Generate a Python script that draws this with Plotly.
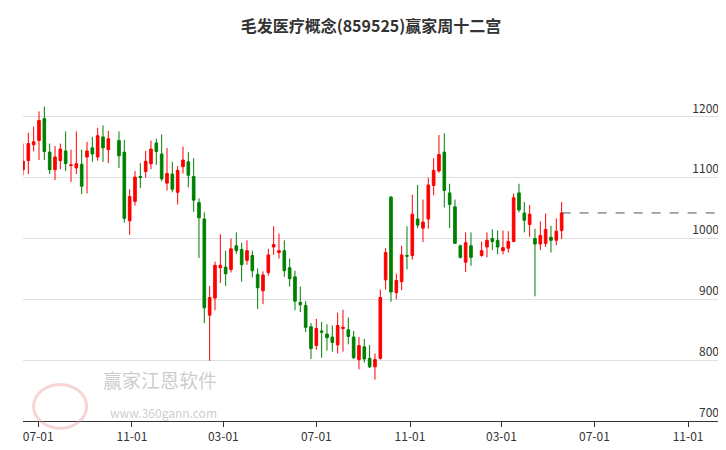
import pandas as pd
import plotly.graph_objects as go

# weekly candles, oldest first
opens = [1113, 1128, 1154, 1161, 1197, 1142, 1113, 1128, 1144, 1120,
         1116, 1122, 1134, 1149, 1134, 1167, 1146, 1161, 1142, 1029,
         1061, 1102, 1110, 1123, 1157, 1139, 1091, 1106, 1076, 1118,
         1126, 1102, 1059, 1032, 874, 902, 952, 953, 949, 988,
         982, 964, 972, 941, 914, 944, 986, 977, 980, 952,
         937, 895, 890, 855, 824, 848, 843, 838, 825, 852,
         850, 838, 801, 822, 803, 789, 803, 932, 1068, 911,
         929, 972, 972, 1032, 1017, 1032, 1087, 1111, 1142, 1075,
         1052, 988, 961, 988, 972, 986, 1000, 997, 980, 984,
         995, 1075, 1042, 1023, 1000, 991, 992, 1002, 997, 1013]
closes = [1127, 1156, 1159, 1194, 1143, 1113, 1134, 1147, 1123, 1121,
          1123, 1086, 1144, 1139, 1169, 1149, 1164, 1136, 1033, 1069,
          1101, 1100, 1127, 1147, 1143, 1098, 1107, 1081, 1112, 1129,
          1104, 1063, 1034, 886, 903, 956, 956, 942, 983, 980,
          957, 980, 947, 919, 940, 973, 990, 980, 947, 934,
          897, 891, 854, 819, 852, 846, 837, 829, 857, 854,
          839, 804, 824, 802, 789, 801, 903, 977, 912, 931,
          973, 971, 1040, 1022, 1027, 1088, 1112, 1138, 1079, 1056,
          992, 969, 993, 969, 980, 997, 995, 986, 985, 995,
          1067, 1047, 1030, 1040, 991, 1005, 1015, 997, 1012, 1042]
highs = [1156, 1174, 1184, 1209, 1217, 1156, 1152, 1156, 1176, 1146,
         1176, 1146, 1159, 1167, 1182, 1186, 1177, 1176, 1162, 1081,
         1111, 1124, 1144, 1161, 1164, 1171, 1149, 1126, 1119, 1151,
         1142, 1132, 1066, 1043, 922, 962, 1007, 980, 1000, 1010,
         993, 997, 980, 951, 946, 983, 1020, 1008, 997, 967,
         947, 921, 897, 861, 868, 863, 859, 857, 878, 883,
         870, 848, 838, 835, 825, 811, 916, 984, 1070, 942,
         988, 1020, 1072, 1088, 1064, 1100, 1132, 1170, 1173, 1090,
         1064, 990, 1010, 1010, 995, 1010, 1015, 1013, 1013, 1012,
         1074, 1090, 1060, 1055, 1016, 1028, 1041, 1021, 1033, 1060]
lows = [1104, 1106, 1143, 1129, 1129, 1106, 1096, 1114, 1111, 1093,
        1106, 1073, 1074, 1126, 1128, 1126, 1124, 1116, 1026, 1006,
        1054, 1083, 1100, 1114, 1121, 1094, 1079, 1076, 1056, 1107,
        1084, 1044, 968, 861, 799, 882, 927, 922, 944, 975,
        929, 957, 936, 884, 892, 939, 973, 967, 937, 921,
        882, 879, 846, 802, 817, 804, 816, 814, 811, 814,
        826, 802, 785, 796, 787, 768, 801, 916, 896, 900,
        915, 949, 965, 1017, 994, 1016, 1071, 1108, 1051, 1017,
        991, 967, 945, 955, 970, 969, 981, 974, 974, 977,
        994, 1043, 1010, 1003, 905, 981, 986, 977, 989, 999]

weeks = pd.date_range("2021-06-11", periods=len(opens) + 2, freq="W-FRI")
weeks = weeks[~weeks.isin(pd.to_datetime(["2021-10-08", "2023-01-27"]))]
dates = weeks[:len(opens)]

tick_dates = ["2021-07-01", "2021-11-01", "2022-03-01", "2022-07-01",
              "2022-11-01", "2023-03-01", "2023-07-01", "2023-11-01"]
tick_text = ["07-01", "11-01", "03-01", "07-01", "11-01", "03-01", "07-01", "11-01"]

fig = go.Figure(go.Candlestick(
    x=dates, open=opens, high=highs, low=lows, close=closes,
    increasing=dict(line=dict(color="#ff0000", width=1), fillcolor="#ff0000"),
    decreasing=dict(line=dict(color="#008000", width=1), fillcolor="#008000"),
    whiskerwidth=0, showlegend=False, hoverinfo="x+y"
))

fig.add_shape(type="line", xref="x", yref="y", x0=dates[-1], x1="2023-12-26",
              y0=closes[-1], y1=closes[-1],
              line=dict(color="#555555", width=1, dash="dash"))

fig.add_annotation(text="赢家江恩软件", xref="paper", yref="paper", x=0.11, y=0.07,
                   showarrow=False, font=dict(size=19, color="rgba(170,170,170,0.6)"),
                   xanchor="left")
fig.add_annotation(text="www.360gann.com", xref="paper", yref="paper", x=0.12, y=-0.005,
                   showarrow=False, font=dict(size=12, color="rgba(170,170,170,0.6)"),
                   xanchor="left")
fig.add_shape(type="circle", xref="paper", yref="paper", x0=0.015, x1=0.09, y0=-0.02, y1=0.1,
              line=dict(color="rgba(230,150,150,0.4)", width=3))

fig.update_layout(
    width=726, height=450,
    margin=dict(l=15, r=4, t=48, b=37),
    paper_bgcolor="white", plot_bgcolor="white",
    font=dict(family="Noto Sans CJK SC, sans-serif", color="#333"),
    title=dict(text="<b>毛发医疗概念(859525)赢家周十二宫</b>", x=0.5, y=0.96,
               xanchor="center", yanchor="middle", font=dict(size=16, color="#333")),
    xaxis=dict(range=["2021-06-11", "2023-12-26"], tickvals=tick_dates, ticktext=tick_text,
               rangeslider=dict(visible=False), showgrid=False,
               showline=True, linecolor="#333", ticks="outside", ticklen=5,
               tickcolor="#333", tickfont=dict(size=12, color="#333")),
    yaxis=dict(range=[700, 1300], side="right", tickvals=[700, 800, 900, 1000, 1100, 1200],
               ticklabelposition="inside top", ticklabelstandoff=8, ticklabeloverflow="allow",
               showgrid=True, gridcolor="#e0e0e0",
               zeroline=False, tickfont=dict(size=12, color="#333")),
)

fig.write_html("out.html")
